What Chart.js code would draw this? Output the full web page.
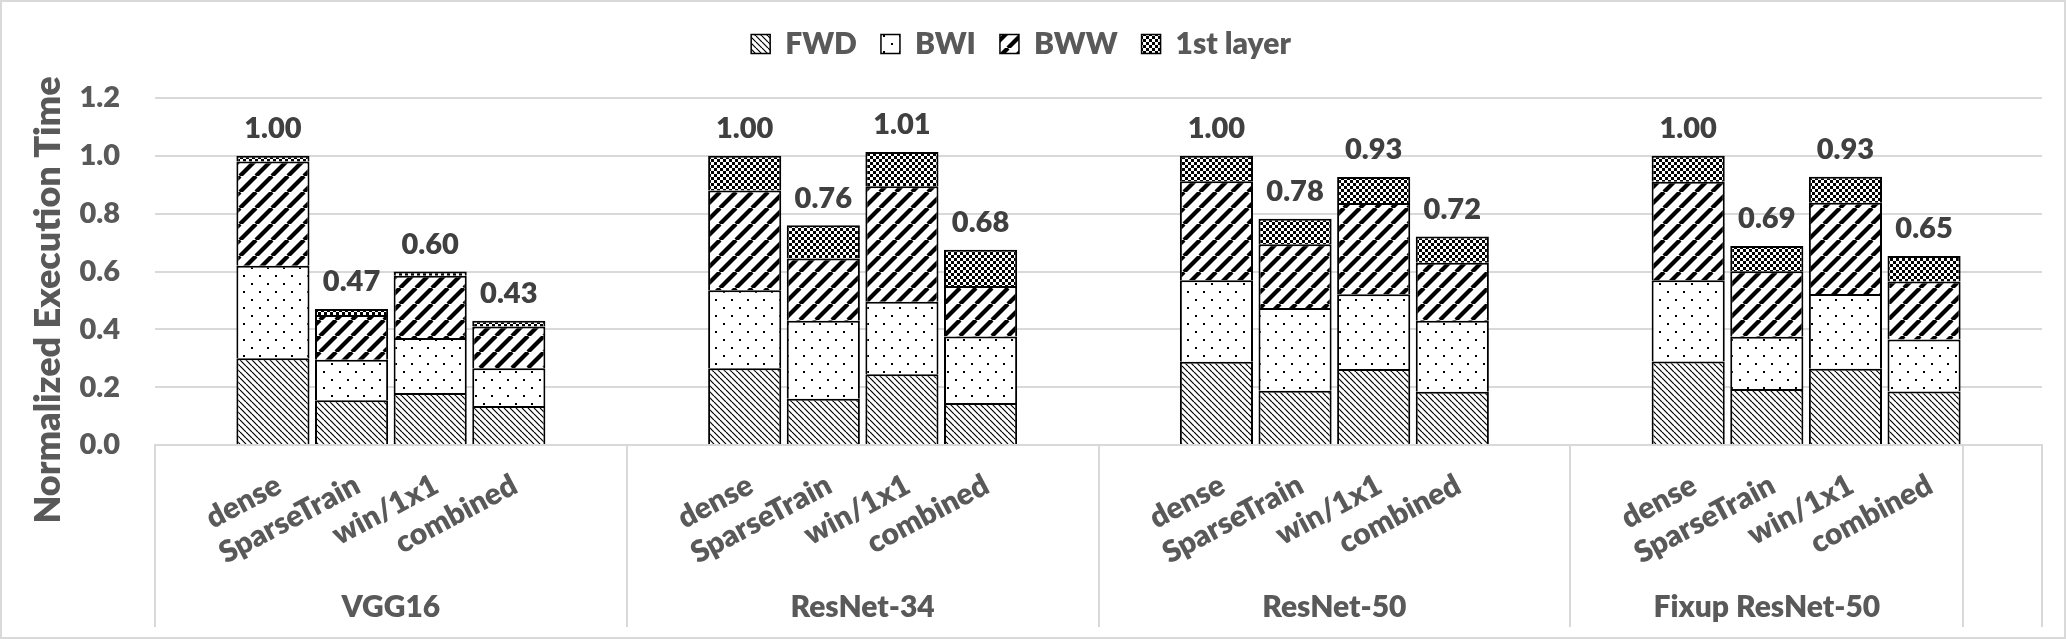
<!DOCTYPE html>
<html>
<head>
<meta charset="utf-8">
<script src="https://cdn.jsdelivr.net/npm/chart.js@4.4.0/dist/chart.umd.min.js"></script>
<style>
  html, body { margin: 0; padding: 0; background: #fff; }
  canvas { display: block; }
</style>
</head>
<body>
<canvas id="chart" width="2066" height="639"></canvas>
<script>
const models = ["VGG16", "ResNet-34", "ResNet-50", "Fixup ResNet-50"];
const methods = ["dense", "SparseTrain", "win/1x1", "combined"];

// values per model, in method order (dense, SparseTrain, win/1x1, combined)
const fwd        = [0.300, 0.155, 0.180, 0.135,  0.265, 0.160, 0.245, 0.145,  0.288, 0.188, 0.263, 0.184,  0.289, 0.194, 0.264, 0.185];
const bwi        = [0.320, 0.140, 0.190, 0.130,  0.270, 0.270, 0.250, 0.230,  0.282, 0.286, 0.258, 0.246,  0.281, 0.180, 0.258, 0.180];
const bww        = [0.360, 0.155, 0.215, 0.145,  0.345, 0.215, 0.400, 0.175,  0.342, 0.220, 0.316, 0.200,  0.340, 0.227, 0.316, 0.200];
const firstLayer = [0.020, 0.020, 0.015, 0.020,  0.120, 0.115, 0.118, 0.125,  0.088, 0.088, 0.090, 0.091,  0.090, 0.087, 0.090, 0.089];
const totalLabels = ["1.00", "0.47", "0.60", "0.43",  "1.00", "0.76", "1.01", "0.68",
                     "1.00", "0.78", "0.93", "0.72",  "1.00", "0.69", "0.93", "0.65"];
const yTicks = [0, 0.2, 0.4, 0.6, 0.8, 1.0, 1.2];

const FONT = "Lato";
const WEIGHT = "800";
const TEXT = "#595959";
const GRID = "#d9d9d9";

// category axis like the excel sheet: a blank slot around every group,
// the last group has no trailing blank and one unnamed slot closes the axis
const labels = [];
const slotOf = [];
const groups = [];
models.forEach((name, gi) => {
  const start = labels.length;
  labels.push("");
  methods.forEach((m, mi) => {
    slotOf[labels.length] = gi * methods.length + mi;
    labels.push(m);
  });
  if (gi < models.length - 1) labels.push("");
  groups.push({ name: name, start: start, end: labels.length });
});
labels.push("");

const spread = (arr) => labels.map((_, i) => (slotOf[i] === undefined ? null : arr[slotOf[i]]));

const canvas = document.getElementById("chart");
const ctx = canvas.getContext("2d");

function makePattern(size, draw) {
  const c = document.createElement("canvas");
  c.width = size;
  c.height = size;
  const g = c.getContext("2d");
  g.fillStyle = "#fff";
  g.fillRect(0, 0, size, size);
  g.fillStyle = "#000";
  g.strokeStyle = "#000";
  draw(g, size);
  return ctx.createPattern(c, "repeat");
}

// fine "\" hatch
const fwdPattern = makePattern(6, (g, s) => {
  g.lineWidth = 1.2;
  for (let k = -1; k <= 1; k++) {
    g.beginPath();
    g.moveTo(k * s, 0);
    g.lineTo(k * s + s, s);
    g.stroke();
  }
});
// sparse dots
const bwiPattern = makePattern(16, (g) => {
  g.fillRect(3, 3, 2, 2);
  g.fillRect(11, 11, 2, 2);
});
// wide "/" stripes
const bwwPattern = makePattern(16, (g, s) => {
  g.lineWidth = 4.2;
  for (let k = 0; k <= 2; k++) {
    g.beginPath();
    g.moveTo(k * s, 0);
    g.lineTo(k * s - s, s);
    g.stroke();
  }
});
// small checker
const firstPattern = makePattern(6, (g) => {
  g.fillRect(0, 0, 3, 3);
  g.fillRect(3, 3, 3, 3);
});

const barStyle = {
  borderColor: "#000",
  borderWidth: { top: 2, left: 2, right: 2, bottom: 0 },
  borderSkipped: false,
  barPercentage: 0.93,
  categoryPercentage: 1.0
};

const legendGap = {
  id: "legendGap",
  beforeLayout(chart) {
    const lg = chart.legend;
    if (lg && !lg._gapPatched) {
      const fit = lg.fit;
      lg.fit = function () {
        fit.call(this);
        this.height += 29;
      };
      lg._gapPatched = true;
    }
  }
};

const decorations = {
  id: "decorations",
  beforeDraw(chart) {
    const c = chart.ctx;
    c.save();
    c.fillStyle = "#fff";
    c.fillRect(0, 0, chart.width, chart.height);
    c.restore();
  },
  afterDatasetsDraw(chart) {
    const c = chart.ctx;
    const xs = chart.scales.x;
    const ys = chart.scales.y;
    c.save();
    c.font = WEIGHT + " 29px " + FONT;
    c.fillStyle = "#404040";
    c.textAlign = "center";
    c.textBaseline = "middle";
    labels.forEach((_, i) => {
      const k = slotOf[i];
      if (k === undefined) return;
      const total = fwd[k] + bwi[k] + bww[k] + firstLayer[k];
      c.fillText(totalLabels[k], xs.getPixelForValue(i), ys.getPixelForValue(total) - 27);
    });
    c.restore();
  },
  afterDraw(chart) {
    const c = chart.ctx;
    const xs = chart.scales.x;
    const pitch = xs.getPixelForValue(1) - xs.getPixelForValue(0);
    const edge = (i) => xs.getPixelForValue(i) - pitch / 2;

    c.save();
    // group separators of the category axis
    c.strokeStyle = GRID;
    c.lineWidth = 2;
    const cuts = [0];
    groups.forEach((g) => cuts.push(g.end));
    cuts.push(labels.length);
    cuts.forEach((i) => {
      const x = Math.round(edge(i));
      c.beginPath();
      c.moveTo(x, xs.top);
      c.lineTo(x, xs.bottom);
      c.stroke();
    });

    // rotated method names
    c.fillStyle = TEXT;
    c.font = WEIGHT + " 30px " + FONT;
    c.textAlign = "right";
    c.textBaseline = "middle";
    labels.forEach((lab, i) => {
      if (!lab) return;
      c.save();
      c.translate(xs.getPixelForValue(i) + 6, xs.top + 38);
      c.rotate(-28 * Math.PI / 180);
      c.fillText(lab, 0, 0);
      c.restore();
    });

    // model names
    c.textAlign = "center";
    groups.forEach((g) => {
      c.fillText(g.name, (edge(g.start) + edge(g.end)) / 2, xs.top + 162);
    });

    // y axis title
    c.save();
    c.font = WEIGHT + " 36px " + FONT;
    c.translate(48, 300);
    c.rotate(-Math.PI / 2);
    c.fillText("Normalized Execution Time", 0, 0);
    c.restore();

    // chart frame
    c.strokeStyle = GRID;
    c.lineWidth = 2;
    c.strokeRect(1, 1, chart.width - 2, chart.height - 2);
    c.restore();
  }
};

new Chart(ctx, {
  type: "bar",
  data: {
    labels: labels,
    datasets: [
      { label: "FWD", data: spread(fwd), backgroundColor: fwdPattern, ...barStyle },
      { label: "BWI", data: spread(bwi), backgroundColor: bwiPattern, ...barStyle },
      { label: "BWW", data: spread(bww), backgroundColor: bwwPattern, ...barStyle },
      { label: "1st layer", data: spread(firstLayer), backgroundColor: firstPattern, ...barStyle }
    ]
  },
  options: {
    responsive: false,
    animation: false,
    devicePixelRatio: 1,
    layout: { padding: { left: 0, right: 24, top: 5, bottom: 12 } },
    plugins: {
      legend: {
        position: "top",
        labels: {
          boxWidth: 19,
          boxHeight: 19,
          padding: 24,
          color: TEXT,
          font: { family: FONT, weight: WEIGHT, size: 30 }
        }
      },
      tooltip: { enabled: false }
    },
    scales: {
      x: {
        stacked: true,
        offset: true,
        grid: { display: false },
        border: { display: true, color: GRID, width: 2 },
        ticks: { display: false },
        afterFit(scale) { scale.height = 182; }
      },
      y: {
        stacked: true,
        min: 0,
        max: 1.2,
        afterBuildTicks(scale) { scale.ticks = yTicks.map((v) => ({ value: v })); },
        afterFit(scale) { scale.width = 155; },
        grid: { color: GRID, lineWidth: 2, drawTicks: false },
        border: { display: false },
        ticks: {
          padding: 35,
          color: TEXT,
          font: { family: FONT, weight: WEIGHT, size: 29 },
          callback: (v) => Number(v).toFixed(1)
        }
      }
    }
  },
  plugins: [legendGap, decorations]
});
</script>
</body>
</html>
